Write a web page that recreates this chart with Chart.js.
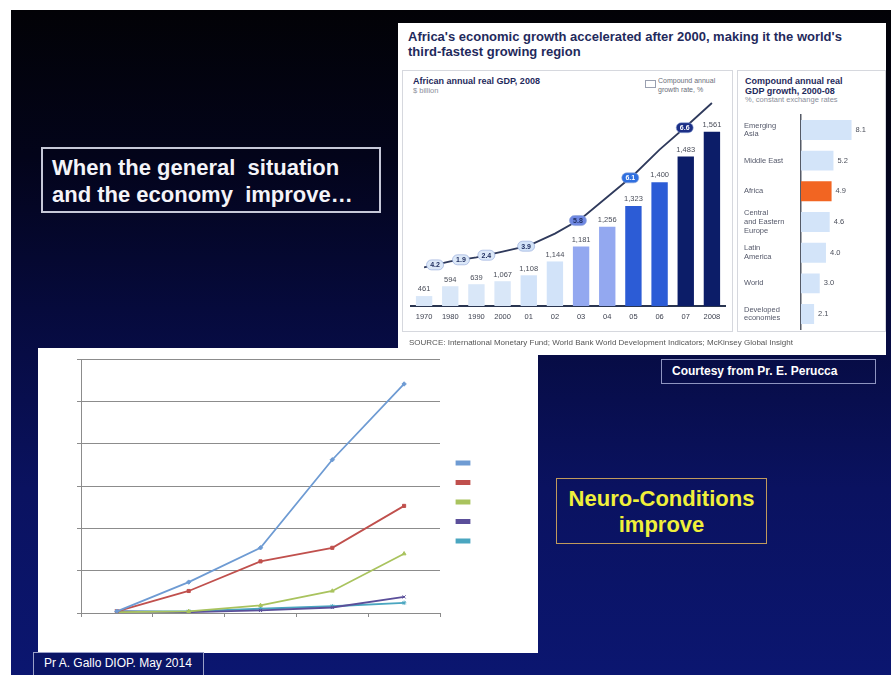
<!DOCTYPE html>
<html>
<head>
<meta charset="utf-8">
<script src="https://cdn.jsdelivr.net/npm/chart.js@4.4.0/dist/chart.umd.min.js"></script>
<style>
  body { margin: 0; width: 891px; height: 675px; background: #fff; position: relative; overflow: hidden;
         font-family: "Liberation Sans", Arial, sans-serif; }
  .abs { position: absolute; }
  #slide { left: 11px; top: 10px; width: 880px; height: 665px;
           background: linear-gradient(180deg, #020206 0%, #03041a 22%, #060a3c 45%, #0a1260 72%, #0b1670 100%); }
  #intro { left: 41px; top: 147px; width: 340px; height: 66px; border: 2px solid #c6c8d8;
           color: #f4f4f8; font-weight: bold; font-size: 22px; line-height: 27px; padding: 5px 0 0 9px; box-sizing: border-box;
           white-space: nowrap; }
  #inset { left: 398px; top: 23px; width: 488px; height: 332px; background: #fff; }
  #insetTitle { left: 408px; top: 29px; color: #1f2a5c; font-weight: bold; font-size: 13px; line-height: 15px; white-space: nowrap; }
  .panel { border: 1px solid #d6d8de; }
  .ptitle { color: #1f2a5c; font-weight: bold; font-size: 9px; line-height: 10px; white-space: nowrap; }
  .psub { color: #8a8e9a; font-size: 7.5px; white-space: nowrap; }
  #source { left: 409px; top: 338px; color: #555; font-size: 8px; white-space: nowrap; }
  #neuro { left: 38px; top: 348px; width: 500px; height: 305px; background: #fff; }
  #courtesy { left: 661px; top: 359px; width: 215px; height: 25px; border: 1px solid #8e94c0; box-sizing: border-box;
              color: #fff; font-weight: bold; font-size: 12px; line-height: 23px; padding-left: 10px; white-space: nowrap; }
  #improve { left: 556px; top: 478px; width: 211px; height: 66px; border: 1.5px solid #c09a5c; box-sizing: border-box;
             color: #f0f03a; font-weight: bold; font-size: 22px; line-height: 26px; text-align: center; padding-top: 7px; white-space: nowrap; }
  #author { left: 33px; top: 652px; width: 171px; height: 23px; border: 1px solid #9aa0c8; border-bottom: none; box-sizing: border-box;
            background: #0a1466; color: #fff; font-size: 12px; line-height: 21px; padding-left: 10px; white-space: nowrap; }
</style>
</head>
<body>
<div id="slide" class="abs"></div>
<div id="intro" class="abs">When the general&nbsp; situation<br>and the economy&nbsp; improve…</div>

<div id="inset" class="abs"></div>
<div id="insetTitle" class="abs">Africa's economic growth accelerated after 2000, making it the world's<br>third-fastest growing region</div>
<div class="abs panel" style="left:402px;top:70px;width:329px;height:260px;"></div>
<div class="abs panel" style="left:737px;top:70px;width:147px;height:260px;"></div>
<div class="abs ptitle" style="left:413px;top:76px;">African annual real GDP, 2008</div>
<div class="abs psub" style="left:413px;top:86px;">$ billion</div>
<div class="abs" style="left:645px;top:80px;width:9px;height:6px;border:1px solid #9aa0b0;"></div>
<div class="abs psub" style="left:658px;top:76px;line-height:9px;font-size:7px;color:#6a6e7a;">Compound annual<br>growth rate, %</div>
<div class="abs ptitle" style="left:745px;top:76px;">Compound annual real<br>GDP growth, 2000-08</div>
<div class="abs psub" style="left:745px;top:95px;">%, constant exchange rates</div>
<canvas id="gdpChart" class="abs" width="325" height="232" style="left:404px;top:95px;width:325px;height:232px;"></canvas>
<canvas id="growthChart" class="abs" width="140" height="240" style="left:744px;top:102px;width:140px;height:240px;"></canvas>
<div id="source" class="abs">SOURCE: International Monetary Fund; World Bank World Development Indicators; McKinsey Global Insight</div>

<div id="neuro" class="abs"></div>
<canvas id="neuroChart" class="abs" width="500" height="305" style="left:38px;top:348px;width:500px;height:305px;"></canvas>

<div id="courtesy" class="abs">Courtesy from Pr. E. Perucca</div>
<div id="improve" class="abs">Neuro-Conditions<br>improve</div>
<div id="author" class="abs">Pr A. Gallo DIOP. May 2014</div>

<script>
// African annual real GDP (bar heights as drawn) and their printed labels
const years = ["1970", "1980", "1990", "2000", "01", "02", "03", "04", "05", "06", "07", "2008"];
const gdpValues = [89, 177, 195, 222, 275, 399, 532, 710, 896, 1109, 1340, 1561];
const gdpLabels = ["461", "594", "639", "1,067", "1,108", "1,144", "1,181", "1,256", "1,323", "1,400", "1,483", "1,561"];
const gdpColors = ["#d9e7f8", "#d9e7f8", "#d9e7f8", "#d9e7f8", "#d2e3f9", "#d2e3f9",
                   "#93a8f0", "#93a8f0", "#2c5cd6", "#2c5cd6", "#0c1d68", "#0c1d68"];
// growth trend line drawn over the bars
const trendValues = [346, 399, 435, 488, 541, 648, 781, 976, 1171, 1401, 1605, 1818];
// compound annual growth pills: position (category index) and text
const cagrPos = [0.42, 1.41, 2.38, 3.9, 5.88, 7.88, 9.96];
const cagrText = ["4.2", "1.9", "2.4", "3.9", "5.8", "6.1", "6.6"];
const cagrFill = ["#dce8f8", "#dce8f8", "#dce8f8", "#d3e3f8", "#6f88e2", "#2e6fe0", "#1c2f86"];
const cagrInk = ["#1b2a5c", "#1b2a5c", "#1b2a5c", "#1b2a5c", "#1b2a5c", "#ffffff", "#ffffff"];

// compound annual real GDP growth 2000-08, %
const regions = [["Emerging", "Asia"], "Middle East", "Africa", ["Central", "and Eastern", "Europe"],
                 ["Latin", "America"], "World", ["Developed", "economies"]];
const growthValues = [8.1, 5.2, 4.9, 4.6, 4.0, 3.0, 2.1];

// neuro-conditions line chart
const periods = ["P1", "P2", "P3", "P4", "P5"];
const series1 = [0.4, 7.3, 15.4, 36.2, 54.1];
const series2 = [0.4, 5.2, 12.2, 15.4, 25.3];
const series3 = [0.2, 0.4, 1.8, 5.2, 14.0];
const series4 = [0.4, 0.2, 0.6, 1.3, 3.8];
const series5 = [0.4, 0.4, 1.0, 1.6, 2.4];

const FONT = "'Liberation Sans', Arial, sans-serif";

// values above bars + growth pills on the trend line
const gdpDecor = {
  id: "gdpDecor",
  afterDatasetsDraw(chart) {
    const ctx = chart.ctx;
    const bars = chart.getDatasetMeta(1).data;
    const pts = chart.getDatasetMeta(0).data;
    const xs = chart.scales.x;
    ctx.save();
    ctx.font = "7.5px " + FONT;
    ctx.fillStyle = "#4a4e5a";
    ctx.textAlign = "center";
    ctx.textBaseline = "bottom";
    bars.forEach((b, i) => ctx.fillText(gdpLabels[i], b.x, b.y - 3));
    ctx.font = "bold 7px " + FONT;
    ctx.textBaseline = "middle";
    cagrPos.forEach((p, i) => {
      const lo = Math.floor(p), t = p - lo;
      const hi = Math.min(lo + 1, pts.length - 1);
      const x = xs.getPixelForValue(p);
      const y = pts[lo].y * (1 - t) + pts[hi].y * t;
      const w = 17, h = 10;
      ctx.beginPath();
      ctx.roundRect(x - w / 2, y - h / 2, w, h, 5);
      ctx.fillStyle = cagrFill[i];
      ctx.fill();
      ctx.strokeStyle = "#8fa4d8";
      ctx.lineWidth = 0.6;
      ctx.stroke();
      ctx.fillStyle = cagrInk[i];
      ctx.fillText(cagrText[i], x, y + 0.5);
    });
    ctx.restore();
  }
};

new Chart(document.getElementById("gdpChart"), {
  data: {
    labels: years,
    datasets: [
      { type: "line", data: trendValues, borderColor: "#2f3a5c", borderWidth: 1.8, pointRadius: 0, order: 0 },
      { type: "bar", data: gdpValues, backgroundColor: gdpColors, barPercentage: 0.68, categoryPercentage: 0.92, order: 1 }
    ]
  },
  options: {
    responsive: false,
    animation: false,
    layout: { padding: { left: 7, right: 4, top: 5, bottom: 0 } },
    plugins: { legend: { display: false }, tooltip: { enabled: false } },
    scales: {
      x: {
        grid: { display: true, drawOnChartArea: false, drawTicks: false },
        border: { display: true, color: "#2a3550", width: 2 },
        ticks: { color: "#3e4250", font: { size: 7.5, family: FONT }, padding: 6, maxRotation: 0, autoSkip: false }
      },
      y: { display: false, min: 0, max: 1845 }
    }
  },
  plugins: [gdpDecor]
});

const growthDecor = {
  id: "growthDecor",
  afterDatasetsDraw(chart) {
    const ctx = chart.ctx;
    ctx.save();
    ctx.font = "7.5px " + FONT;
    ctx.fillStyle = "#4a4e5a";
    ctx.textBaseline = "middle";
    chart.getDatasetMeta(0).data.forEach((b, i) => ctx.fillText(growthValues[i].toFixed(1), b.x + 4, b.y));
    ctx.restore();
  }
};

new Chart(document.getElementById("growthChart"), {
  type: "bar",
  data: {
    labels: regions,
    datasets: [{
      data: growthValues,
      backgroundColor: growthValues.map((v, i) => i === 2 ? "#f26522" : "#d3e4f9"),
      barPercentage: 0.65, categoryPercentage: 1
    }]
  },
  options: {
    indexAxis: "y",
    responsive: false,
    animation: false,
    layout: { padding: { top: 0, bottom: 0, right: 0 } },
    plugins: { legend: { display: false }, tooltip: { enabled: false } },
    scales: {
      x: { display: false, min: 0, max: 13.3 },
      y: {
        afterFit: (s) => { s.width = 57; },
        grid: { display: false },
        border: { display: true, color: "#555a66", width: 1.5 },
        ticks: { crossAlign: "far", color: "#55596a", font: { size: 7.5, family: FONT, lineHeight: 1.15 }, padding: 4 }
      }
    }
  },
  plugins: [growthDecor]
});

const lineColors = ["#6e9bd3", "#c0504d", "#a9c35e", "#5b4f9a", "#4aa6c0"];
const markerStyles = ["rectRot", "rect", "triangle", "crossRot", "star"];
const neuroSeries = [series1, series2, series3, series4, series5];

new Chart(document.getElementById("neuroChart"), {
  type: "line",
  data: {
    labels: periods,
    datasets: neuroSeries.map((s, i) => ({
      label: "",
      data: s,
      borderColor: lineColors[i],
      backgroundColor: lineColors[i],
      borderWidth: 1.8,
      pointStyle: markerStyles[i],
      pointRadius: 2.2,
      pointBorderWidth: 1
    }))
  },
  options: {
    responsive: false,
    animation: false,
    layout: { padding: { top: 11, right: 57, left: 0, bottom: 8 } },
    plugins: {
      tooltip: { enabled: false },
      legend: {
        position: "right",
        labels: { boxWidth: 13, boxHeight: 3, padding: 16.5, font: { size: 3, family: FONT } }
      }
    },
    scales: {
      x: {
        afterFit: (s) => { s.height = 32; },
        offset: true,
        grid: { display: true, drawOnChartArea: false, offset: true, tickLength: 4, color: "#8a8a8a" },
        border: { color: "#8a8a8a" },
        ticks: { display: false }
      },
      y: {
        afterFit: (s) => { s.width = 43; },
        min: 0, max: 60,
        grid: { color: "#8c8c8c", tickLength: 4 },
        border: { color: "#8c8c8c" },
        ticks: { display: false, stepSize: 10 }
      }
    }
  }
});
</script>
</body>
</html>
